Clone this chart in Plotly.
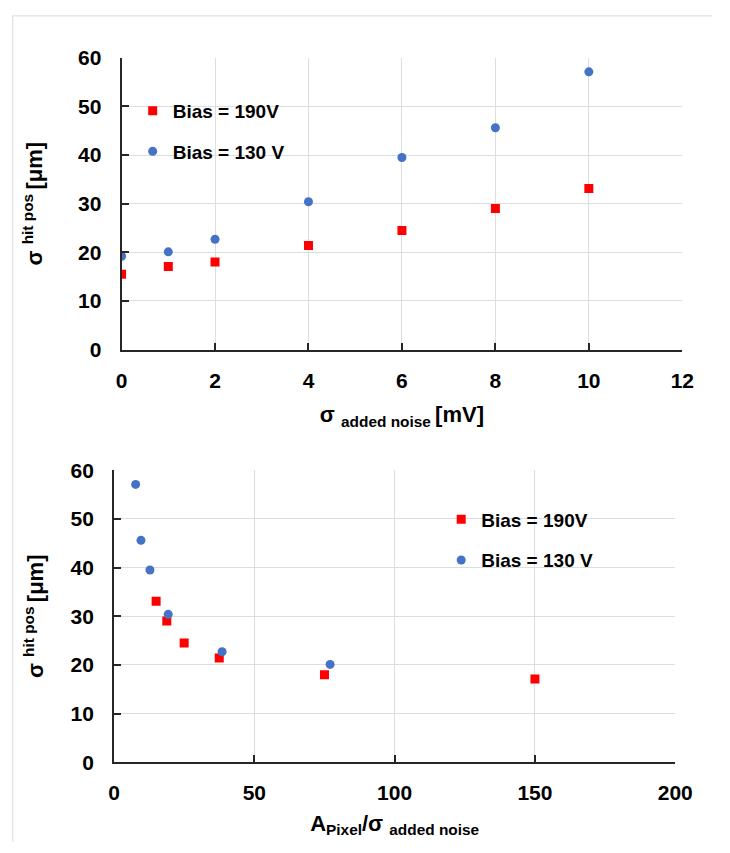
import plotly.graph_objects as go

# ---- data ----
noise_mV = [0, 1, 2, 4, 6, 8, 10]
sigma_190 = [15.5, 17.1, 18.0, 21.4, 24.5, 29.0, 33.1]
sigma_130 = [19.2, 20.1, 22.7, 30.4, 39.5, 45.6, 57.1]

ratio_190 = [150, 75, 37.5, 25, 18.8, 15]
sigma_190_b = [17.1, 18.0, 21.4, 24.5, 29.0, 33.1]
ratio_130 = [77, 38.5, 19.3, 12.8, 9.6, 7.7]
sigma_130_b = [20.1, 22.7, 30.4, 39.5, 45.6, 57.1]

name_190 = "Bias = 190V"
name_130 = "Bias = 130 V"

RED = "#FF0000"
BLUE = "#4472C4"
W, H = 730, 853
TICKFONT = dict(family="Liberation Sans Narrow, Liberation Sans, Arial", size=21, color="#000000")
LEGFONT = dict(family="Liberation Sans, Arial", size=19, color="#000000")

fig = go.Figure()
fig.add_trace(go.Scatter(x=noise_mV, y=sigma_190, mode="markers", name=name_190,
                         marker=dict(symbol="square", size=9, color=RED),
                         xaxis="x", yaxis="y", legend="legend", legendgroup="a"))
fig.add_trace(go.Scatter(x=noise_mV, y=sigma_130, mode="markers", name=name_130,
                         marker=dict(symbol="circle", size=9, color=BLUE),
                         xaxis="x", yaxis="y", legend="legend", legendgroup="b"))
fig.add_trace(go.Scatter(x=ratio_190, y=sigma_190_b, mode="markers", name=name_190,
                         marker=dict(symbol="square", size=9, color=RED),
                         xaxis="x2", yaxis="y2", legend="legend2", legendgroup="c"))
fig.add_trace(go.Scatter(x=ratio_130, y=sigma_130_b, mode="markers", name=name_130,
                         marker=dict(symbol="circle", size=9, color=BLUE),
                         xaxis="x2", yaxis="y2", legend="legend2", legendgroup="d"))

def ax(domain, rng, dtick, anchor, standoff):
    return dict(domain=domain, range=rng, dtick=dtick, tick0=0, anchor=anchor,
                showline=True, linecolor="#262626", linewidth=2,
                ticks="inside", ticklen=7, tickwidth=2, tickcolor="#262626",
                ticklabelstandoff=standoff,
                showgrid=True, gridcolor="#DDDDDD", gridwidth=1,
                zeroline=False, tickfont=dict(TICKFONT, weight="bold"),
                fixedrange=True)

top_y = [1 - 347 / H, 1 - 47 / H]
bot_y = [1 - 771 / H, 1 - 471 / H]

fig.update_layout(
    width=W, height=H, margin=dict(l=0, r=0, t=0, b=0),
    paper_bgcolor="white", plot_bgcolor="white",
    xaxis=ax([119.5 / W, 699.3 / W], [0, 12], 2, "y", 11),
    yaxis=ax(top_y, [0, 60], 10, "x", 14),
    xaxis2=ax([111.7 / W, 692 / W], [0, 200], 50, "y2", 11),
    yaxis2=ax(bot_y, [0, 60], 10, "x2", 14),
    legend=dict(x=131 / W, y=1 - 82 / H, xanchor="left", yanchor="top",
                font=dict(LEGFONT, weight="bold"), bgcolor="rgba(0,0,0,0)",
                traceorder="grouped", tracegroupgap=13),
    legend2=dict(x=450 / W, y=1 - 502 / H, xanchor="left", yanchor="top",
                 font=dict(LEGFONT, weight="bold"), bgcolor="rgba(0,0,0,0)",
                 traceorder="grouped", tracegroupgap=13),
    showlegend=True,
)

TF = dict(family="Liberation Sans Narrow, Liberation Sans, Arial", size=22, color="#000000")
fig.layout.xaxis.title = dict(text="σ <sub>added noise </sub>[mV]", font=dict(TF, weight="bold"), standoff=16)
fig.layout.yaxis.title = dict(text="σ <sup>hit pos </sup>[μm]", font=dict(TF, weight="bold"), standoff=29)
fig.layout.xaxis2.title = dict(text="A<sub>Pixel</sub>/σ <sub>added noise</sub>", font=dict(TF, weight="bold"), standoff=12)
fig.layout.yaxis2.title = dict(text="σ <sup>hit pos </sup>[μm]", font=dict(TF, weight="bold"), standoff=21)

# panel borders
fig.add_shape(type="line", xref="paper", yref="paper", x0=6 / W, x1=1, y0=1 - 4 / H, y1=1 - 4 / H,
              line=dict(color="#D9D9D9", width=1))
fig.add_shape(type="line", xref="paper", yref="paper", x0=7 / W, x1=7 / W, y0=0, y1=1 - 4 / H,
              line=dict(color="#D9D9D9", width=1))

fig.write_html("out.html")
